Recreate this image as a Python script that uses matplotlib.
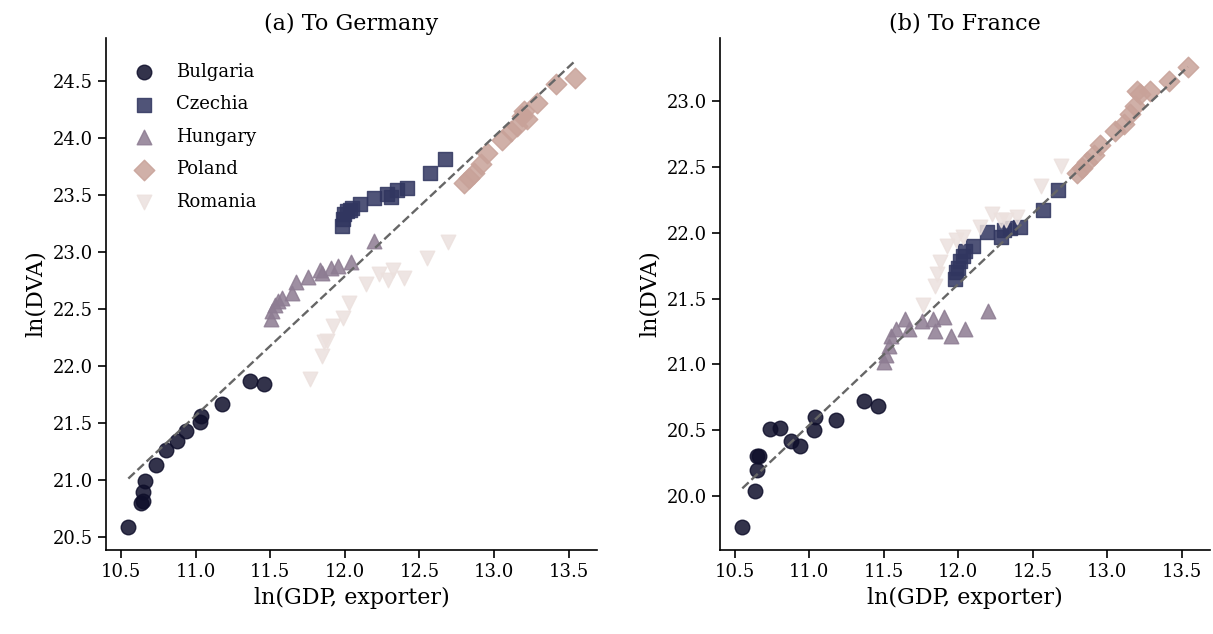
import matplotlib
matplotlib.use('Agg')
import matplotlib.pyplot as plt
from matplotlib.ticker import MultipleLocator
import numpy as np

plt.rcParams['font.family'] = ['DejaVu Serif']

countries = ['Bulgaria', 'Czechia', 'Hungary', 'Poland', 'Romania']
markers = ['o', 's', '^', 'D', 'v']
colors = ['#0f0f2b', '#313660', '#8d7c92', '#c8a299', '#ece1de']

# ln(GDP, exporter), one value per year
gdp_bg = [10.550, 10.634, 10.647, 10.651, 10.664, 10.738, 10.805, 10.875, 10.939, 11.029, 11.036, 11.176, 11.364, 11.461]
gdp_cz = [11.980, 11.986, 11.996, 12.013, 12.033, 12.047, 12.100, 12.194, 12.284, 12.308, 12.348, 12.415, 12.569, 12.669]
gdp_hu = [11.504, 11.514, 11.534, 11.551, 11.581, 11.645, 11.672, 11.755, 11.832, 11.846, 11.906, 11.953, 12.043, 12.197]
gdp_pl = [12.797, 12.830, 12.864, 12.910, 12.951, 13.051, 13.111, 13.152, 13.185, 13.198, 13.218, 13.285, 13.413, 13.540]
gdp_ro = [11.765, 11.844, 11.859, 11.879, 11.922, 11.986, 12.030, 12.145, 12.227, 12.288, 12.321, 12.395, 12.552, 12.689]

# ln(DVA) to Germany
de_bg = [20.592, 20.803, 20.820, 20.899, 20.996, 21.136, 21.268, 21.346, 21.434, 21.513, 21.566, 21.671, 21.873, 21.846]
de_cz = [23.232, 23.294, 23.338, 23.364, 23.373, 23.390, 23.419, 23.478, 23.507, 23.484, 23.542, 23.566, 23.697, 23.814]
de_hu = [22.411, 22.484, 22.537, 22.575, 22.601, 22.645, 22.741, 22.782, 22.840, 22.820, 22.864, 22.879, 22.917, 23.098]
de_pl = [23.610, 23.654, 23.697, 23.770, 23.873, 23.989, 24.063, 24.107, 24.195, 24.239, 24.165, 24.311, 24.472, 24.531]
de_ro = [21.884, 22.089, 22.215, 22.221, 22.353, 22.425, 22.557, 22.724, 22.805, 22.753, 22.840, 22.776, 22.952, 23.089]

# ln(DVA) to France
fr_bg = [19.761, 20.042, 20.306, 20.196, 20.306, 20.510, 20.518, 20.416, 20.383, 20.502, 20.600, 20.574, 20.720, 20.684]
fr_cz = [21.650, 21.699, 21.735, 21.788, 21.827, 21.865, 21.896, 22.007, 21.965, 22.018, 22.040, 22.044, 22.172, 22.325]
fr_hu = [21.015, 21.071, 21.140, 21.217, 21.267, 21.344, 21.267, 21.328, 21.344, 21.252, 21.359, 21.213, 21.267, 21.405]
fr_pl = [22.456, 22.494, 22.540, 22.594, 22.670, 22.770, 22.824, 22.900, 22.962, 23.077, 23.054, 23.077, 23.153, 23.261]
fr_ro = [21.449, 21.597, 21.686, 21.775, 21.903, 21.942, 21.967, 22.044, 22.146, 22.095, 22.095, 22.120, 22.358, 22.504]

# fitted line (intercept, slope) for each panel
fit_de = (8.096, 1.2245)
fit_fr = (8.759, 1.071)

gdp = [gdp_bg, gdp_cz, gdp_hu, gdp_pl, gdp_ro]
panels = [('(a) To Germany', [de_bg, de_cz, de_hu, de_pl, de_ro], fit_de),
          ('(b) To France', [fr_bg, fr_cz, fr_hu, fr_pl, fr_ro], fit_fr)]

fig = plt.figure(figsize=(12.13, 6.34), dpi=100)
ax1 = fig.add_axes([0.0874, 0.1325, 0.4048, 0.8076])
ax2 = fig.add_axes([0.5936, 0.1325, 0.404, 0.8076])

for ax, (title, dva, fit) in zip([ax1, ax2], panels):
    for i in range(5):
        ax.scatter(gdp[i], dva[i], s=110, marker=markers[i], color=colors[i],
                   alpha=0.85, edgecolors='face', linewidths=1, label=countries[i])
    x_all = np.concatenate(gdp)
    xs = np.array([x_all.min(), x_all.max()])
    ax.plot(xs, fit[0] + fit[1] * xs, ls='--', color='#666666', lw=1.7, zorder=3)

    ax.set_title(title, fontsize=16)
    ax.set_xlabel('ln(GDP, exporter)', fontsize=16)
    ax.set_ylabel('ln(DVA)', fontsize=16)
    ax.xaxis.set_major_locator(MultipleLocator(0.5))
    ax.yaxis.set_major_locator(MultipleLocator(0.5))
    ax.tick_params(labelsize=13, length=6, width=1.2)
    for sp in ['top', 'right']:
        ax.spines[sp].set_visible(False)
    for sp in ['left', 'bottom']:
        ax.spines[sp].set_linewidth(1.2)

ax2.set_ylim(19.59, 23.48)

ax1.legend(loc='upper left', bbox_to_anchor=(0, 0.99), frameon=False, fontsize=13,
           borderaxespad=0.7, handletextpad=0.8, labelspacing=0.8)

fig.savefig('out.png', dpi=100)
